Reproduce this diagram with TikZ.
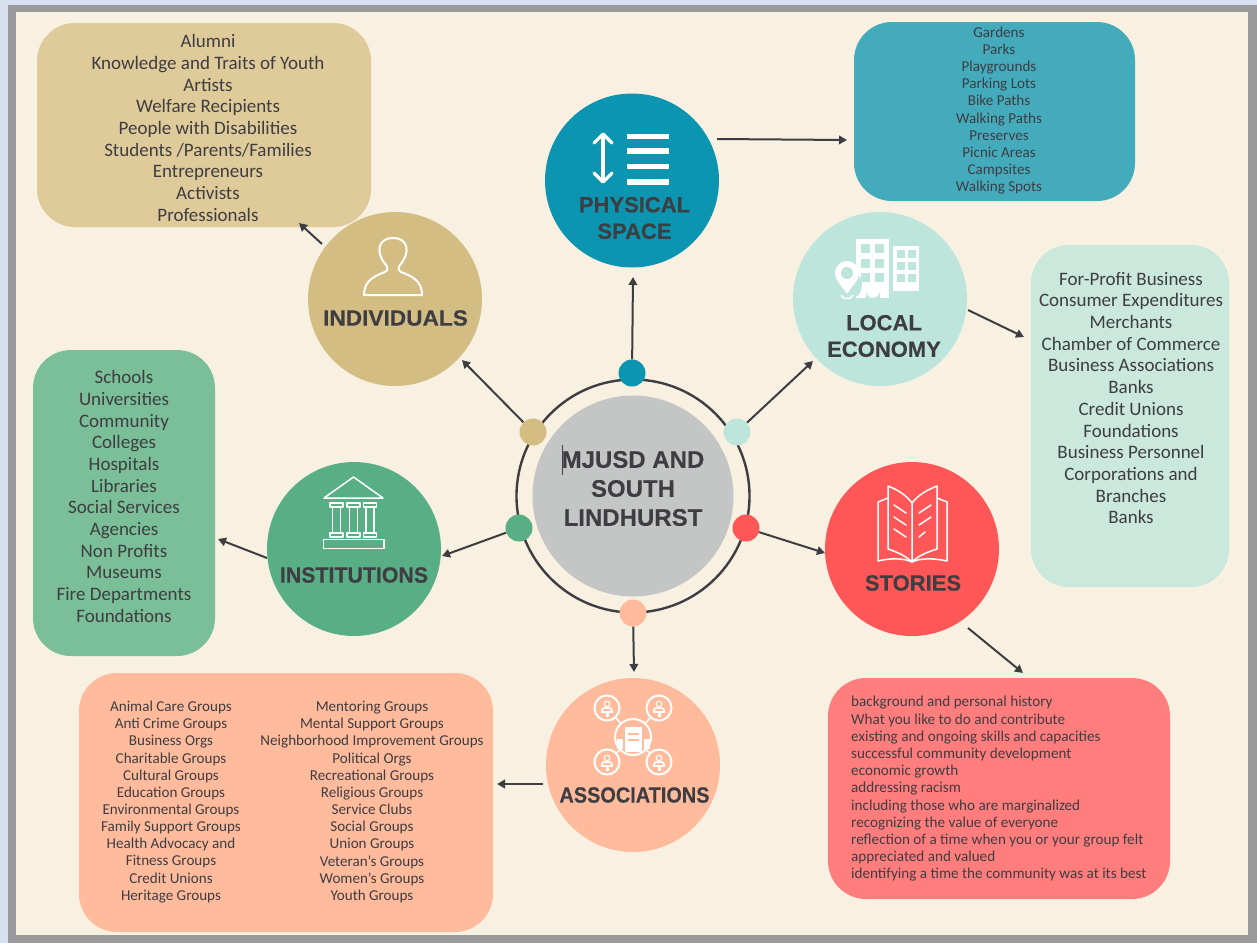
\documentclass[tikz,border=0pt]{standalone}
\usepackage{graphicx}
\usepackage{fontspec}
\setmainfont{Carlito}
\newfontfamily\headfont[FakeBold=0.25]{Liberation Sans}
\usetikzlibrary{arrows.meta}
\definecolor{bgcream}{HTML}{F8F1E2}
\definecolor{frameblue}{HTML}{D6E0F0}
\definecolor{framegrey}{HTML}{9A9A9C}
\definecolor{ink}{HTML}{3E3D42}
\definecolor{ctan}{HTML}{D4BD82}
\definecolor{ltan}{HTML}{DFCB9A}
\definecolor{cteal}{HTML}{0C95B0}
\definecolor{lteal}{HTML}{44ABBD}
\definecolor{cmint}{HTML}{BDE5DC}
\definecolor{lmint}{HTML}{CBE8DD}
\definecolor{cred}{HTML}{FF5757}
\definecolor{lred}{HTML}{FF7D7D}
\definecolor{cpeach}{HTML}{FFBB9C}
\definecolor{cgreen}{HTML}{58AF85}
\definecolor{lgreen}{HTML}{7ABF97}
\definecolor{cgrey}{HTML}{C4C6C6}
\tikzset{
 x=1pt,y=-1pt,
 bubble/.style={circle,minimum size=174pt,inner sep=0pt,fill=#1},
 dot/.style={circle,minimum size=27pt,inner sep=0pt,fill=#1},
 panel/.style={rounded corners=38pt,fill=#1},
 conn/.style={draw=ink,line width=2pt,-{Triangle[length=8pt,width=8.5pt]}},
 head/.style={text=ink,font=\headfont\bfseries\fontsize{22}{26.5}\selectfont,align=center},
 lista/.style={text=ink,align=center,font=\fontsize{19}{21.7}\selectfont},
 listb/.style={text=ink,align=center,font=\fontsize{15.1}{17.15}\selectfont},
 listc/.style={text=ink,align=left,inner sep=0pt,font=\fontsize{15.15}{17.2}\selectfont},
 ico/.style={draw=white,line width=2pt,fill=none,line join=round,line cap=round},
}
\begin{document}
\begin{tikzpicture}
\useasboundingbox (0,0) rectangle (1257,943);
\fill[frameblue] (0,0) rectangle (1257,943);
\fill[framegrey] (8,5) rectangle (1257,943);
\fill[bgcream] (16,12) rectangle (1248,935);
% panels
\fill[panel=ltan] (37,23) rectangle (371,227);
\fill[panel=lteal] (854,22) rectangle (1135,201);
\fill[panel=lmint] (1031,245) rectangle (1229,587);
\fill[panel=lgreen] (33,350) rectangle (215,656);
\fill[panel=cpeach] (79,673) rectangle (493,932);
\fill[panel=lred] (828,678) rectangle (1170,899);
% panel text
\node[lista] (tind) at (208,128) {Alumni\\Knowledge and Traits of Youth\\Artists\\Welfare Recipients\\People with Disabilities\\Students /Parents/Families\\Entrepreneurs\\Activists\\Professionals};
\node[listb] (tphy) at (999,110.5) {Gardens\\Parks\\Playgrounds\\Parking Lots\\Bike Paths\\Walking Paths\\Preserves\\Picnic Areas\\Campsites\\Walking Spots};
\node[lista] (teco) at (1131,398) {For-Profit Business\\Consumer Expenditures\\Merchants\\Chamber of Commerce\\Business Associations\\Banks\\Credit Unions\\Foundations\\Business Personnel\\Corporations and\\Branches\\Banks};
\node[lista] (tins) at (124,496.5) {Schools\\Universities\\Community\\Colleges\\Hospitals\\Libraries\\Social Services\\Agencies\\Non Profits\\Museums\\Fire Departments\\Foundations};
\node[listb] (tas1) at (171,802) {Animal Care Groups\\Anti Crime Groups\\Business Orgs\\Charitable Groups\\Cultural Groups\\Education Groups\\Environmental Groups\\Family Support Groups\\Health Advocacy and\\Fitness Groups\\Credit Unions\\Heritage Groups};
\node[listb] (tas2) at (372,802) {Mentoring Groups\\Mental Support Groups\\Neighborhood Improvement Groups\\Political Orgs\\Recreational Groups\\Religious Groups\\Service Clubs\\Social Groups\\Union Groups\\Veteran's Groups\\Women's Groups\\Youth Groups};
\node[listc,anchor=west] (tsto) at (851,789) {background and personal history\\What you like to do and contribute\\existing and ongoing skills and capacities\\successful community development\\economic growth\\addressing racism\\including those who are marginalized\\recognizing the value of everyone\\reflection of a time when you or your group felt\\appreciated and valued\\identifying a time the community was at its best};
% ring and hub
\node[circle,draw=ink,line width=2.4pt,minimum size=233pt,inner sep=0pt] (ring) at (633,496) {};
\node[circle,fill=cgrey,minimum size=201pt,inner sep=0pt] (hub) at (633,496) {};
\node[head,font=\headfont\bfseries\fontsize{24}{29}\selectfont] (lhub) at (633,488.5) {MJUSD AND\\SOUTH\\LINDHURST};
\fill[ink] (561.5,445) rectangle (562.5,475);
% bubbles
\node[bubble=ctan] (ind) at (395,299) {};
\node[bubble=cteal] (phy) at (632,180.5) {};
\node[bubble=cmint] (eco) at (880,299) {};
\node[bubble=cred] (sto) at (912,549) {};
\node[bubble=cpeach] (ass) at (633,765) {};
\node[bubble=cgreen] (ins) at (354,549) {};
% dots
\node[dot=ctan] (dind) at (533,432) {};
\node[dot=cteal] (dphy) at (632,373) {};
\node[dot=cmint] (deco) at (737,432) {};
\node[dot=cred] (dsto) at (746,528) {};
\node[dot=cpeach] (dass) at (633,613) {};
\node[dot=cgreen] (dins) at (519,528) {};
% free ends
\coordinate (e1a) at (322,244); \coordinate (e1b) at (299,223);
\coordinate (e2a) at (717,139); \coordinate (e2b) at (847,140);
\coordinate (e3a) at (968,310); \coordinate (e3b) at (1024,337);
\coordinate (e4a) at (968,628); \coordinate (e4b) at (1023,673);
\coordinate (e5a) at (543,784); \coordinate (e5b) at (497,784);
\coordinate (e6a) at (267,558); \coordinate (e6b) at (218,539);
\coordinate (c1) at (462,360); \coordinate (c2) at (633,277); \coordinate (c3) at (813,361);
\coordinate (c4) at (825,553); \coordinate (c5) at (634,672); \coordinate (c6) at (442,556);
\draw[conn] (dind) -- (c1);
\draw[conn] (dphy) -- (c2);
\draw[conn] (deco) -- (c3);
\draw[conn] (dsto) -- (c4);
\draw[conn] (dass) -- (c5);
\draw[conn] (dins) -- (c6);
\draw[conn] (e1a) -- (e1b);
\draw[conn] (e2a) -- (e2b);
\draw[conn] (e3a) -- (e3b);
\draw[conn] (e4a) -- (e4b);
\draw[conn] (e5a) -- (e5b);
\draw[conn] (e6a) -- (e6b);
% bubble labels
\node[head] (lind) at (395.5,318) {\scalebox{1.03}[1]{INDIVIDUALS}};
\node[head] (lphy) at (634.5,218) {PHYSICAL\\SPACE};
\node[head] (leco) at (884,336) {LOCAL\\ECONOMY};
\node[head] (lsto) at (913,583) {STORIES};
\node[head] (lass) at (634.5,795) {\scalebox{0.905}[1]{ASSOCIATIONS}};
\node[head] (lins) at (354,575) {\scalebox{0.97}[1]{INSTITUTIONS}};
% icon: person
\draw[ico] (364,295) .. controls (364,280) and (375,276) .. (385,272) .. controls (388,270) and (388,268) .. (386,265)
 .. controls (375,252) and (378,238) .. (393,238) .. controls (408,238) and (411,252) .. (400,265)
 .. controls (398,268) and (398,270) .. (401,272) .. controls (411,276) and (422,280) .. (422,295) -- cycle;
% icon: physical
\draw[ico,line width=3.2pt] (603,135) -- (603,181);
\draw[ico,line width=3.2pt] (594,143) -- (603,134) -- (612,143);
\draw[ico,line width=3.2pt] (594,173) -- (603,182) -- (612,173);
\fill[white] (627,134) rectangle (669,139);
\fill[white] (627,148) rectangle (669,154);
\fill[white] (627,164) rectangle (669,169);
\fill[white] (627,179) rectangle (669,184.5);
% icon: buildings
\fill[white] (856,239) rectangle (889,298);
\fill[white] (893,246) rectangle (919,291);
\foreach \cx in {861,875} \foreach \cy in {244,259,273} \fill[cmint] (\cx,\cy) rectangle +(9,9);
\foreach \cx in {897,908} \foreach \cy in {250,262,274} \fill[cmint] (\cx,\cy) rectangle +(8,8);
\fill[cmint] (866,298) -- (866,291) arc[start angle=180,end angle=360,x radius=7,y radius=-7] -- (880,298) -- cycle;
\fill[cmint] (847,285) circle[radius=15];
\fill[white] (847,294) .. controls (843,287) and (835,281) .. (835,273) arc[start angle=180,end angle=0,x radius=12,y radius=-12] .. controls (859,281) and (851,287) .. (847,294) -- cycle;
\fill[cmint] (847,273) circle[radius=6];
\draw[white,line width=1.5pt] (841,295) arc[start angle=180,end angle=360,x radius=6,y radius=-3.5];
% icon: temple
\draw[ico,line width=1.5pt] (324,498) -- (353.5,477) -- (383,498) -- cycle;
\foreach \px in {330,347,363.5} {
 \draw[ico,line width=1.5pt] (\px,503) rectangle +(13,4);
 \draw[ico,line width=1.5pt] (\px+2.5,507) rectangle +(8,26);
 \draw[ico,line width=1.5pt] (\px,533) rectangle +(13,4);
}
\draw[ico,line width=1.5pt] (323.5,539.5) rectangle (384,548.5);
% icon: book
\draw[ico,line width=1.5pt] (912,560) -- (912,503) .. controls (906,495) and (898,490) .. (888,486) -- (888,549) .. controls (897,552) and (906,556) .. (912,562) .. controls (918,556) and (927,552) .. (937,549) -- (937,486) .. controls (927,490) and (918,495) .. (912,503);
\draw[ico,line width=1.5pt] (888,498) -- (878,502) -- (878,561) .. controls (890,558) and (904,558) .. (912,562) .. controls (920,558) and (934,558) .. (947,561) -- (947,502) -- (937,498);
\foreach \dy in {0,12,24} \draw[ico,line width=1.5pt] (894,505+\dy) -- (906,513+\dy);
\draw[ico,line width=1.5pt] (931,505) -- (919,513);
\draw[ico,line width=1.5pt] (931,517) -- (919,525);
\draw[ico,line width=1.5pt] (925,532) -- (919,537);
% icon: network
\foreach \ax/\ay in {607/708,659/708,607/762,659/762} {
 \draw[white,line width=1.5pt] (633,737) -- (\ax,\ay);
 \fill[cpeach] (\ax,\ay) circle[radius=12.5];
 \draw[white,line width=2pt] (\ax,\ay) circle[radius=12.5];
 \draw[white,line width=1.2pt] (\ax,\ay-4) circle[radius=2.8];
 \draw[white,line width=1.6pt] (\ax-5,\ay+4) -- (\ax-5,\ay+2) .. controls (\ax-5,\ay) and (\ax-3,\ay) .. (\ax,\ay) .. controls (\ax+3,\ay) and (\ax+5,\ay) .. (\ax+5,\ay+2) -- (\ax+5,\ay+4) -- cycle;
 \fill[white] (\ax-1.5,\ay+9) rectangle (\ax+1.5,\ay+4);
}
\fill[cpeach] (633,737) circle[radius=18];
\draw[white,line width=2pt] (633,737) circle[radius=18];
\fill[white] (625,727) rectangle (642,752);
\fill[cpeach] (628,733) rectangle (639,735);
\fill[cpeach] (628,739) rectangle (639,741);
\fill[white] (617,739) rectangle (623,749);
\fill[white] (644,739) rectangle (650,749);
\end{tikzpicture}
\end{document}
